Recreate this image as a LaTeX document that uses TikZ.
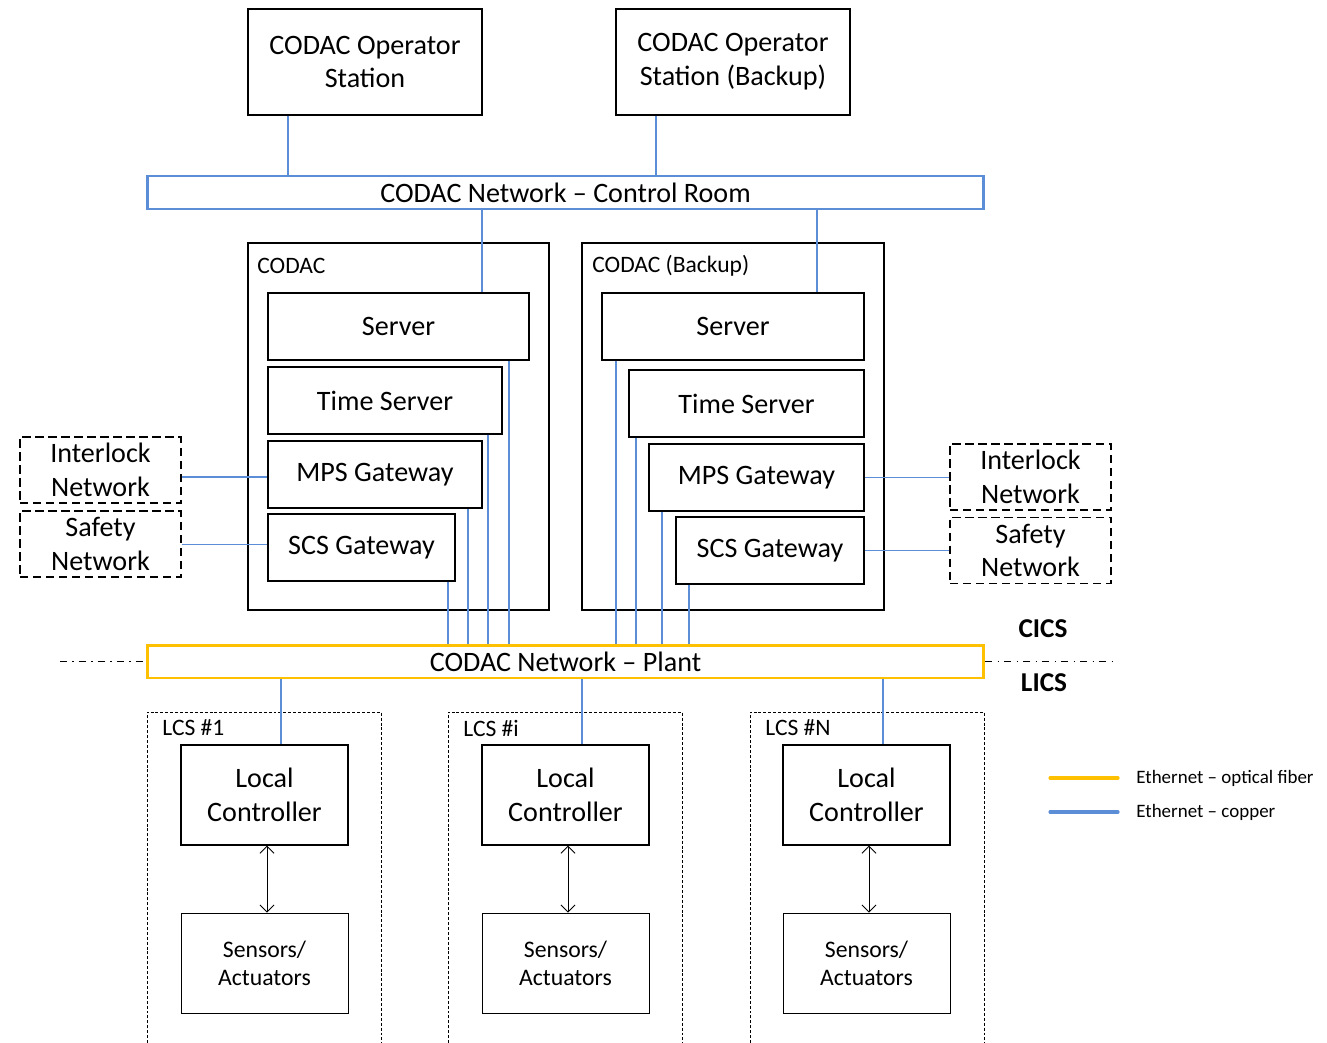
\documentclass[tikz,border=0pt]{standalone}
\usepackage{fontspec}
\setmainfont{Carlito}
\usetikzlibrary{arrows.meta, calc}
\definecolor{copperblue}{HTML}{5B8ED6}
\definecolor{fiberyellow}{HTML}{FFC000}

\begin{document}
\begin{tikzpicture}[x=0.02cm, y=-0.02cm, >={Straight Barb[length=4pt,width=8pt]},
    box/.style={draw, line width=0.8pt, align=center, inner sep=0pt, font=\fontsize{16}{19.3}\selectfont},
    smallbox/.style={box, font=\fontsize{13.5}{15.9}\selectfont},
    extbox/.style={box, dash pattern=on 4.8pt off 2.6pt},
    netbar/.style={draw, line width=1.7pt, inner sep=0pt, minimum width=16.74cm, minimum height=0.66cm, font=\fontsize{16}{19.3}\selectfont},
    copper/.style={copperblue, line width=0.95pt},
    lcsbox/.style={line width=0.5pt, dash pattern=on 1.7pt off 1.1pt},
    tag/.style={anchor=west, inner sep=0pt, font=\fontsize{13.4}{16}\selectfont},
    legend/.style={anchor=west, inner sep=0pt, font=\fontsize{10.8}{13}\selectfont}]

                      \useasboundingbox (0,0) rectangle (1327,1043);

                      % operator stations and control room network
                      \node[box, minimum width=4.68cm, minimum height=2.12cm] (op1) at (365,62) {CODAC Operator\\Station};
                      \node[box, minimum width=4.68cm, minimum height=2.12cm] (op2) at (733,62) {CODAC Operator\\Station (Backup)\vphantom{Station}};
                      \node[netbar, draw=copperblue] (crnet) at (565.5,192.5) {CODAC Network – Control Room};

                      \draw[copper] (op1.south -| 288,0) -- (crnet.north -| 288,0);
                      \draw[copper] (op2.south -| 656,0) -- (crnet.north -| 656,0);

                      % CODAC
                      \node[box, minimum width=6.02cm, minimum height=7.34cm] (codac) at (398.5,426.5) {};
                      \node[tag] (codaclbl) at (257,266) {CODAC};
                      \node[box, minimum width=5.22cm, minimum height=1.34cm] (srv1) at (398.5,326.5) {Server};
                      \node[box, minimum width=4.68cm, minimum height=1.34cm] (ts1) at (385,400.5) {Time Server};
                      \node[box, minimum width=4.28cm, minimum height=1.34cm] (mps1) at (375,474.5) {MPS Gateway};
                      \node[box, minimum width=3.74cm, minimum height=1.34cm] (scs1) at (361.5,547.5) {SCS Gateway};

                      % CODAC (Backup)
                      \node[box, minimum width=6.04cm, minimum height=7.34cm] (codacb) at (733,426.5) {};
                      \node[tag] (codacblbl) at (592,266) {CODAC (Backup)};
                      \node[box, minimum width=5.24cm, minimum height=1.34cm] (srv2) at (733,326.5) {Server};
                      \node[box, minimum width=4.70cm, minimum height=1.34cm] (ts2) at (746.5,403.5) {Time Server};
                      \node[box, minimum width=4.30cm, minimum height=1.34cm] (mps2) at (756.5,477.5) {MPS Gateway};
                      \node[box, minimum width=3.76cm, minimum height=1.34cm] (scs2) at (770,550.5) {SCS Gateway};

                      \draw[copper] (crnet.south -| 482,0) -- (srv1.north -| 482,0);
                      \draw[copper] (crnet.south -| 817,0) -- (srv2.north -| 817,0);

                      % interlock and safety networks
                      \node[extbox, minimum width=3.22cm, minimum height=1.32cm] (il1) at (100.5,470) {Interlock\\Network};
                      \node[extbox, minimum width=3.22cm, minimum height=1.32cm] (sf1) at (100.5,544) {Safety\\Network};
                      \node[extbox, minimum width=3.22cm, minimum height=1.32cm] (il2) at (1030.5,477) {Interlock\\Network};
                      \node[extbox, minimum width=3.22cm, minimum height=1.32cm] (sf2) at (1030.5,550.5) {Safety\\Network};

                      \draw[copper] ([yshift=-0.05cm]mps1.west -| il1.east) -- ([yshift=-0.05cm]mps1.west);
                      \draw[copper] ([yshift=0.06cm]scs1.west -| sf1.east) -- ([yshift=0.06cm]scs1.west);
                      \draw[copper] (mps2.east) -- (mps2.east -| il2.west);
                      \draw[copper] (scs2.east) -- (scs2.east -| sf2.west);

                      % plant network
                      \node[netbar, draw=fiberyellow] (plant) at (565.5,661.5) {CODAC Network – Plant};
                      \draw[line width=0.6pt, dash pattern=on 4pt off 3pt on 0.8pt off 3pt] (plant.west -| 60,0) -- (plant.west);
                      \draw[line width=0.6pt, dash pattern=on 4pt off 3pt on 0.8pt off 3pt] (plant.east) -- (plant.east -| 1113,0);
                      \node[font=\fontsize{15.5}{18}\selectfont\bfseries] (cics) at (1043,629) {CICS};
                      \node[font=\fontsize{15.5}{18}\selectfont\bfseries] (lics) at (1044,683) {LICS};

                      \draw[copper] (scs1.south -| 448,0) -- (plant.north -| 448,0);
                      \draw[copper] (mps1.south -| 468,0) -- (plant.north -| 468,0);
                      \draw[copper] (ts1.south -| 488,0) -- (plant.north -| 488,0);
                      \draw[copper] (srv1.south -| 509,0) -- (plant.north -| 509,0);
                      \draw[copper] (srv2.south -| 616,0) -- (plant.north -| 616,0);
                      \draw[copper] (ts2.south -| 636,0) -- (plant.north -| 636,0);
                      \draw[copper] (mps2.south -| 662,0) -- (plant.north -| 662,0);
                      \draw[copper] (scs2.south -| 689,0) -- (plant.north -| 689,0);

                      % local control systems
                      \foreach \n/\xl/\xc/\xn/\lbl in {1/147/264.5/281/LCS \#1, 2/448/565.5/582/LCS \#i, 3/750/866.5/883/LCS \#N}{
                          \draw[lcsbox] (\xl,1043) |- (\xl+234,712) -- (\xl+234,1043);
                          \node[tag] (lcs\n) at (\xl+15,728) {\lbl};
                          \node[box, minimum width=3.34cm, minimum height=2cm] (lc\n) at (\xc,795) {Local\\Controller};
                          \node[smallbox, line width=0.5pt, minimum width=3.34cm, minimum height=2cm] (sa\n) at (\xc,963) {Sensors/\\Actuators};
                          \draw[copper] (plant.south -| \xn,0) -- (lc\n.north -| \xn,0);
                          \draw[<->, line width=0.5pt] ([xshift=0.05cm]lc\n.south) -- ([xshift=0.05cm]sa\n.north);
                      }

                      % legend
                      \node[legend] (fibtxt) at (1136,778) {Ethernet – optical fiber};
                      \node[legend] (coptxt) at (1136,812) {Ethernet – copper};
                      \draw[fiberyellow, line width=1.8pt, line cap=round] (1050,778) -- (1118,778);
                      \draw[copperblue, line width=1.8pt, line cap=round] (1050,812) -- (1118,812);

                    \end{tikzpicture}
\end{document}
